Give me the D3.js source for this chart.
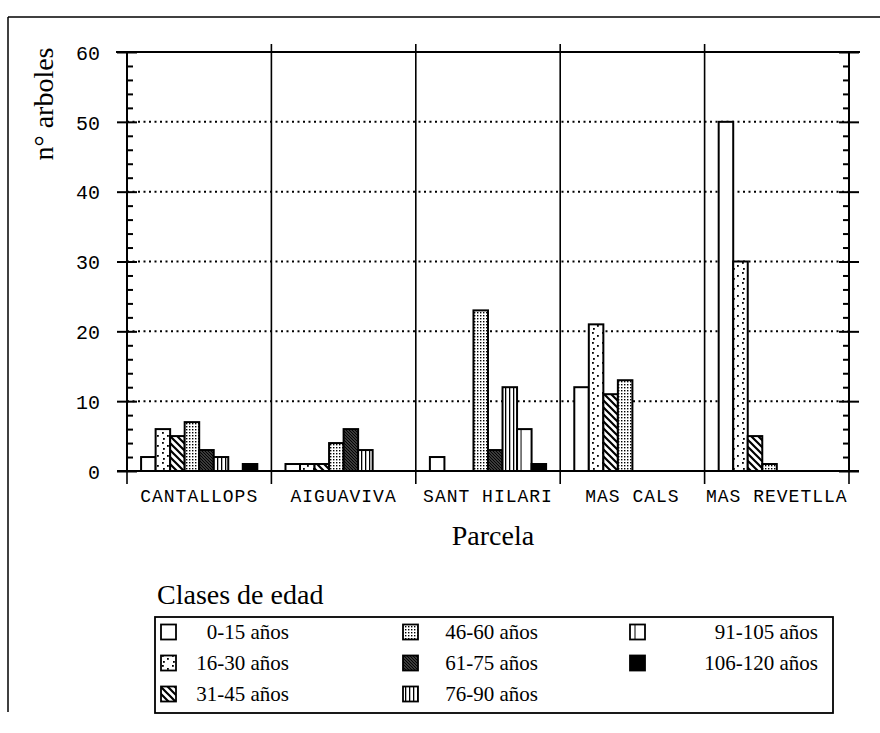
<!DOCTYPE html>
<html><head><meta charset="utf-8">
<script src="https://cdn.jsdelivr.net/npm/d3@7"></script>
<style>
body{margin:0;background:#fff;}
svg{display:block;}
</style></head>
<body>
<svg id="c" width="880" height="733"></svg>
<script>
const categories = ["CANTALLOPS","AIGUAVIVA","SANT HILARI","MAS CALS","MAS REVETLLA"];
const seriesNames = ["0-15 años","16-30 años","31-45 años","46-60 años","61-75 años","76-90 años","91-105 años","106-120 años"];
const v0_15   = [2, 1, 2, 12, 50];
const v16_30  = [6, 1, 0, 21, 30];
const v31_45  = [5, 1, 0, 11, 5];
const v46_60  = [7, 4, 23, 13, 1];
const v61_75  = [3, 6, 3, 0, 0];
const v76_90  = [2, 3, 12, 0, 0];
const v91_105 = [0, 0, 6, 0, 0];
const v106_120= [1, 0, 1, 0, 0];
const seriesValues = [v0_15, v16_30, v31_45, v46_60, v61_75, v76_90, v91_105, v106_120];
const yMajorTicks = [0,10,20,30,40,50,60];
const yMinorTicks = [2,4,6,8,12,14,16,18,22,24,26,28,32,34,36,38,42,44,46,48,52,54,56,58];
const gridValues = [10,20,30,40,50];

const svg = d3.select("#c");
const L = 127, R = 849, T = 52, B = 471;
const y = d3.scaleLinear().domain([0,60]).range([B,T]);
const x0 = d3.scaleBand().domain(categories).range([L,R]).padding(0);
const x1 = d3.scaleBand().domain(d3.range(8)).range([0,x0.bandwidth()]).paddingInner(0).paddingOuter(0.97);

// patterns
const defs = svg.append("defs");
function pat(id,w,h,build){const p=defs.append("pattern").attr("id",id).attr("patternUnits","userSpaceOnUse").attr("width",w).attr("height",h);p.append("rect").attr("width",w).attr("height",h).attr("fill","#fff");build(p);}
pat("p1",10,10,p=>{[[2,2],[7,5],[3,8]].forEach(d=>p.append("rect").attr("x",d[0]).attr("y",d[1]).attr("width",1.8).attr("height",1.8).attr("fill","#000"));});
pat("p2",7,7,p=>{p.append("path").attr("d","M-1,-1 L8,8 M-1,6 L1,8 M6,-1 L8,1").attr("stroke","#000").attr("stroke-width",2.2);});
pat("p3",3,3,p=>{p.append("rect").attr("x",0).attr("y",0).attr("width",1.4).attr("height",1.4).attr("fill","#000");});
pat("p4",3,3,p=>{p.append("rect").attr("width",3).attr("height",3).attr("fill","#555");p.append("path").attr("d","M-1,-1 L4,4 M-1,2 L1,4 M2,-1 L4,1").attr("stroke","#000").attr("stroke-width",1.2);});
pat("p5",4,4,p=>{p.append("rect").attr("x",1).attr("y",0).attr("width",1.3).attr("height",4).attr("fill","#000");});
const fills = ["#fff","url(#p1)","url(#p2)","url(#p3)","url(#p4)","url(#p5)","#fff","#000"];

// outer frame
svg.append("line").attr("x1",8).attr("x2",8).attr("y1",17).attr("y2",712).attr("stroke","#000").attr("stroke-width",1.5);
svg.append("line").attr("x1",8).attr("x2",880).attr("y1",17).attr("y2",17).attr("stroke","#000").attr("stroke-width",1.5);

// grid
svg.append("g").selectAll("line").data(gridValues).join("line")
  .attr("x1",L).attr("x2",R).attr("y1",d=>y(d)).attr("y2",d=>y(d))
  .attr("stroke","#000").attr("stroke-width",2).attr("stroke-dasharray","2,3.5");

// dividers
const divs = categories.map(c=>x0(c)).concat([x0(categories[categories.length-1])+x0.bandwidth()]);
svg.append("g").selectAll("line").data(divs.slice(1,-1)).join("line")
  .attr("x1",d=>d).attr("x2",d=>d).attr("y1",T-8).attr("y2",B+13)
  .attr("stroke","#000").attr("stroke-width",1.6);

// bars
const g = svg.append("g");
seriesValues.forEach((vals,si)=>{
  g.append("g").selectAll("rect").data(vals.map((v,ci)=>({v,c:categories[ci]})).filter(d=>d.v>0)).join("rect")
    .attr("x",d=>x0(d.c)+x1(si)).attr("width",x1.bandwidth())
    .attr("y",d=>y(d.v)).attr("height",d=>y(0)-y(d.v))
    .attr("fill",fills[si]).attr("stroke","#000").attr("stroke-width",2);
  if(si===6){
    g.append("g").selectAll("line").data(vals.map((v,ci)=>({v,c:categories[ci]})).filter(d=>d.v>0)).join("line")
      .attr("x1",d=>x0(d.c)+x1(si)+4).attr("x2",d=>x0(d.c)+x1(si)+4)
      .attr("y1",d=>y(d.v)).attr("y2",y(0)).attr("stroke","#000").attr("stroke-width",1);
  }
});

const mono = "'Liberation Mono','Courier New',monospace";
// left axis
const axL = svg.append("g").attr("transform",`translate(${L},0)`)
  .call(d3.axisLeft(y).tickValues(yMajorTicks).tickSize(10).tickPadding(17).tickFormat(d3.format("d")));
axL.select(".domain").attr("stroke-width",2).attr("d",`M0,${B}V${T}`);
axL.selectAll(".tick line").attr("x1",-10).attr("x2",10).attr("stroke-width",2);
axL.selectAll(".tick text").attr("font-family",mono).attr("font-size",20).attr("fill","#000").attr("x",-27).attr("dy","0.36em");
svg.append("g").attr("transform",`translate(${L},0)`)
  .call(d3.axisRight(y).tickValues(yMinorTicks).tickSize(6).tickFormat(""))
  .call(a=>a.select(".domain").remove()).selectAll("line").attr("stroke-width",2);

// right axis
const axR = svg.append("g").attr("transform",`translate(${R},0)`)
  .call(d3.axisRight(y).tickValues(yMajorTicks).tickSize(10).tickFormat(""));
axR.select(".domain").attr("stroke-width",2).attr("d",`M0,${B}V${T}`);
axR.selectAll(".tick line").attr("x1",-10).attr("x2",10).attr("stroke-width",2);
svg.append("g").attr("transform",`translate(${R},0)`)
  .call(d3.axisLeft(y).tickValues(yMinorTicks).tickSize(6).tickFormat(""))
  .call(a=>a.select(".domain").remove()).selectAll("line").attr("stroke-width",2);

// top and bottom lines
svg.append("line").attr("x1",L-11).attr("x2",R+11).attr("y1",y(60)).attr("y2",y(60)).attr("stroke","#000").attr("stroke-width",2.2);
const axB = svg.append("g").attr("transform",`translate(0,${B})`)
  .call(d3.axisBottom(x0).tickSize(0).tickPadding(31));
axB.select(".domain").attr("d",`M${L-10},0H${R+10}`).attr("stroke-width",2.2);
axB.selectAll(".tick text").attr("font-family",mono).attr("font-size",18).attr("letter-spacing","1px").attr("fill","#000").attr("dy","0");
svg.append("g").selectAll("line").data([L,R]).join("line")
  .attr("x1",d=>d).attr("x2",d=>d).attr("y1",B).attr("y2",B+13).attr("stroke","#000").attr("stroke-width",1.6);

// titles
const serif = "'Liberation Serif','Times New Roman',serif";
svg.append("text").attr("transform","translate(53,104) rotate(-90)").attr("text-anchor","middle")
  .attr("font-family",serif).attr("font-size",28).text("n° arboles");
svg.append("text").attr("x",493).attr("y",545).attr("text-anchor","middle")
  .attr("font-family",serif).attr("font-size",28).text("Parcela");

// legend
svg.append("text").attr("x",157).attr("y",604).attr("font-family",serif).attr("font-size",28).text("Clases de edad");
svg.append("rect").attr("x",155).attr("y",617).attr("width",678).attr("height",96).attr("fill","none").attr("stroke","#000").attr("stroke-width",1.8);
const colSw = [161,403,630], colTxt = [289,538,818], rowY = [632,663,694];
const leg = svg.append("g").selectAll("g").data(seriesNames).join("g")
  .attr("transform",(d,i)=>`translate(0,${rowY[i%3]})`);
leg.append("rect").attr("x",(d,i)=>colSw[Math.floor(i/3)]).attr("y",-7.5).attr("width",15).attr("height",15)
  .attr("fill",(d,i)=>fills[i]).attr("stroke","#000").attr("stroke-width",1.8);
leg.filter((d,i)=>i===6).append("line").attr("x1",colSw[2]+5).attr("x2",colSw[2]+5).attr("y1",-7.5).attr("y2",7.5).attr("stroke","#000").attr("stroke-width",1);
leg.append("text").attr("x",(d,i)=>colTxt[Math.floor(i/3)]).attr("y",7).attr("text-anchor","end")
  .attr("font-family",serif).attr("font-size",21).text(d=>d);
</script>
</body></html>
